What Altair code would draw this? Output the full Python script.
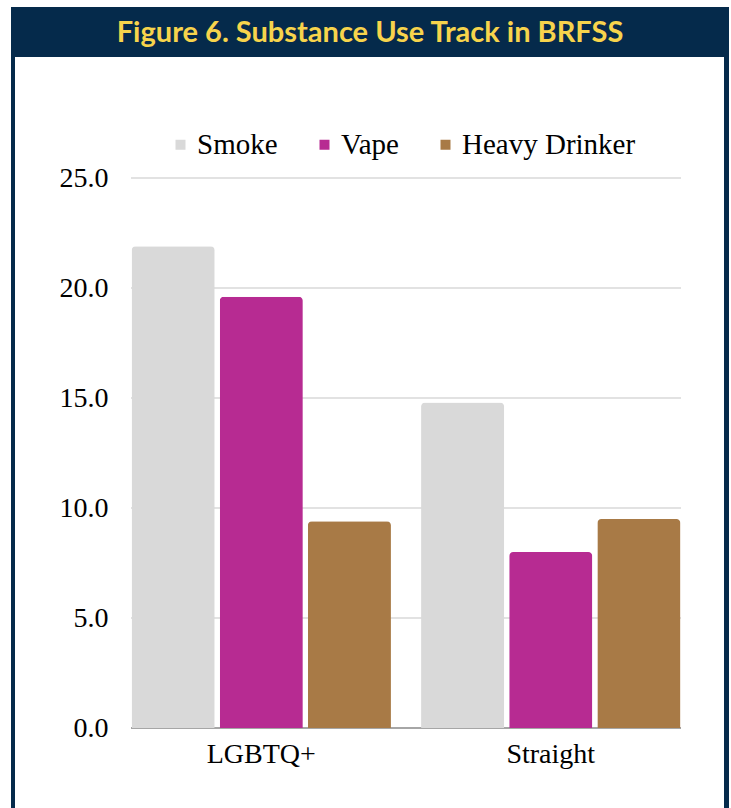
import altair as alt
import pandas as pd

groups = ["LGBTQ+", "Straight"]
series = ["Smoke", "Vape", "Heavy Drinker"]
smoke = [21.9, 14.8]
vape = [19.6, 8.0]
heavy = [9.4, 9.5]
y_ticks = [0, 5, 10, 15, 20, 25]
colors = ["#d9d9d9", "#b72b92", "#a87a46"]
title_text = "Figure 6. Substance Use Track in BRFSS"

rows = []
for i, g in enumerate(groups):
    for s, vals in zip(series, [smoke, vape, heavy]):
        rows.append({"group": g, "series": s, "value": vals[i]})
df = pd.DataFrame(rows)
ticks_df = pd.DataFrame({"tick": [t for t in y_ticks if t != 0]})
base_df = pd.DataFrame({"tick": [y_ticks[0]]})
one = pd.DataFrame({"k": [0]})

SERIF = "Liberation Serif"
yscale = alt.Scale(domain=[y_ticks[0], y_ticks[-1]], nice=False, zero=True)
yaxis = alt.Axis(title=None, values=y_ticks, format=".1f", labelFont=SERIF,
                 labelFontSize=28, labelColor="#000000", ticks=False,
                 domain=False, grid=False, labelPadding=23, zindex=1)

frame = alt.Chart(one).mark_rect(color="#052a4b").encode(
    x=alt.value(-120), x2=alt.value(598), y=alt.value(-171), y2=alt.value(640)
)
inner = alt.Chart(one).mark_rect(color="white").encode(
    x=alt.value(-116), x2=alt.value(593), y=alt.value(-121), y2=alt.value(640)
)
grid = alt.Chart(ticks_df).mark_rule(color="#d9d9d9", strokeWidth=1.5).encode(
    y=alt.Y("tick:Q", scale=yscale, axis=yaxis), x=alt.value(0), x2=alt.value(550)
)
baseline = alt.Chart(base_df).mark_rule(color="#a6a6a6", strokeWidth=2).encode(
    y=alt.Y("tick:Q", scale=yscale, axis=yaxis), x=alt.value(0), x2=alt.value(550)
)

bars = alt.Chart(df).mark_bar(cornerRadiusTopLeft=4, cornerRadiusTopRight=4).encode(
    x=alt.X("group:N", sort=groups,
            scale=alt.Scale(paddingInner=0.104, paddingOuter=0.002),
            axis=alt.Axis(title=None, labelAngle=0, labelFont=SERIF, labelFontSize=28,
                          labelColor="#000000", ticks=False, domain=False, grid=False,
                          labelPadding=12, zindex=1)),
    xOffset=alt.XOffset("series:N", sort=series,
                        scale=alt.Scale(paddingInner=0.057, paddingOuter=0)),
    y=alt.Y("value:Q", scale=yscale, axis=yaxis),
    color=alt.Color("series:N", sort=series,
                    scale=alt.Scale(domain=series, range=colors),
                    legend=alt.Legend(title=None, orient="none", legendX=35, legendY=-48,
                                      direction="horizontal", symbolType="square",
                                      symbolSize=100, symbolStrokeWidth=0,
                                      labelFont=SERIF, labelFontSize=29, labelLimit=0,
                                      labelColor="#000000", labelOffset=2,
                                      columnPadding=32, padding=0, zindex=1)),
)

title = alt.Chart(one).mark_text(
    text=title_text, font="Lato", fontWeight="bold", fontSize=29,
    color="#f7d44c", align="center", baseline="middle"
).encode(x=alt.value(239), y=alt.value(-145))

chart = alt.layer(frame, inner, grid, baseline, bars, title).properties(
    width=550, height=550,
    padding={"left": 131, "top": 178, "right": 50, "bottom": 80},
    autosize=alt.AutoSizeParams(type="none"),
    background="white",
).configure_view(stroke=None)

chart.save("out.html", embed_options={"renderer": "svg", "actions": False})
